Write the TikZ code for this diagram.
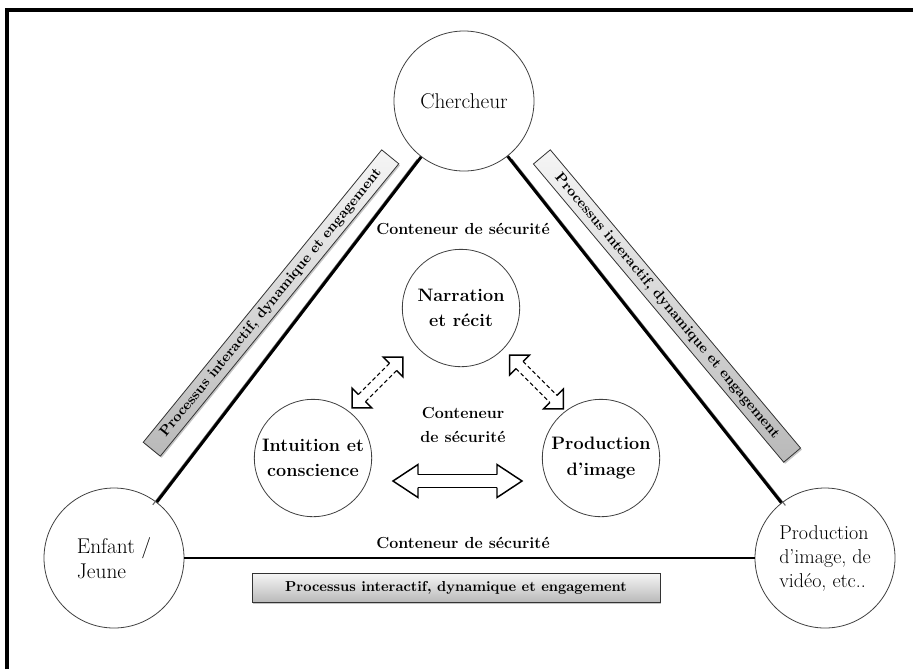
\documentclass[tikz,border=0pt]{standalone}
\usetikzlibrary{shadows}
\newcommand{\DblArr}[7]{%
  \begin{scope}[shift={#1},rotate=#2]
    \fill[white] (-#3,0) -- (-#3+#4,#5) -- (-#3+#4,#6) -- (#3-#4,#6) -- (#3-#4,#5) -- (#3,0)
      -- (#3-#4,-#5) -- (#3-#4,-#6) -- (-#3+#4,-#6) -- (-#3+#4,-#5) -- cycle;
    \draw[arrhead] (-#3+#4,#6) -- (-#3+#4,#5) -- (-#3,0) -- (-#3+#4,-#5) -- (-#3+#4,-#6);
    \draw[arrhead] (#3-#4,#6) -- (#3-#4,#5) -- (#3,0) -- (#3-#4,-#5) -- (#3-#4,-#6);
    \draw[#7] (-#3+#4,#6) -- (#3-#4,#6);
    \draw[#7] (-#3+#4,-#6) -- (#3-#4,-#6);
  \end{scope}}
\tikzset{
  outer/.style={circle, draw=black!75, line width=0.6pt, minimum size=105pt, inner sep=0pt,
    font=\fontsize{16}{19}\selectfont, align=left},
  inner/.style={circle, draw=black!75, line width=0.6pt, minimum size=88pt, inner sep=0pt,
    font=\bfseries\fontsize{13.5}{19}\selectfont, align=center},
  conteneur/.style={font=\bfseries\fontsize{12}{17.5}\selectfont, align=center, inner sep=0pt},
  banner/.style={draw=black!80, line width=0.6pt, top color=gray!8, bottom color=gray!55,
    drop shadow={shadow xshift=1pt, shadow yshift=-1.2pt, opacity=0.45},
    inner sep=0pt, font=\bfseries\fontsize{10.8}{12}\selectfont},
  mainline/.style={line width=2.2pt, black},
  shadowline/.style={line width=0.8pt, black!60},
  arrhead/.style={line width=1.1pt, black, line join=miter},
  solidshaft/.style={line width=1.1pt, black},
  dashshaft/.style={line width=0.8pt, black, densely dashed}
}
\begin{document}
\begin{tikzpicture}[x=0.75pt, y=-0.75pt]
  \useasboundingbox (0,0) rectangle (913,669);
  \fill[white] (0,0) rectangle (913,669);
  % frame
  \draw[line width=3pt] (7,669) -- (7,10) -- (913,10);

  % outer circles
  \node[outer] (cher) at (464,101) {Chercheur};
  \node[outer] (enf) at (114,558) {Enfant /\\Jeune};
  \node[outer, font=\fontsize{15}{18}\selectfont] (prod) at (825,558) {Production\\d'image, de\\vidéo, etc..};

  % triangle connectors
  \draw[shadowline, transform canvas={shift={(-3pt,-2pt)}}] (cher) -- (enf);
  \draw[mainline] (cher) -- (enf);
  \draw[shadowline, transform canvas={shift={(3pt,-2pt)}}] (cher) -- (prod);
  \draw[mainline] (cher) -- (prod);
  \draw[mainline] (enf) -- (prod);

  % banners
  \node[banner, minimum width=283pt, minimum height=16.5pt, rotate=50.8] (banL) at (271,303)
    {Processus interactif, dynamique et engagement};
  \node[banner, minimum width=292pt, minimum height=16.5pt, rotate=-50] (banR) at (667,306)
    {Processus interactif, dynamique et engagement};
  \node[banner, minimum width=306pt, minimum height=21.75pt] (banB) at (456,588)
    {Processus interactif, dynamique et engagement};

  % container labels
  \node[conteneur] (c1) at (463,229) {Conteneur de sécurité};
  \node[conteneur] (c2) at (463,425) {Conteneur\\de sécurité};
  \node[conteneur] (c3) at (463,543) {Conteneur de sécurité};

  % inner circles
  \node[inner] (narr) at (461,308) {Narration\\et récit};
  \node[inner] (intu) at (313,458) {Intuition et\\conscience};
  \node[inner] (pimg) at (601,458) {Production\\d'image};

  % double arrows
  \DblArr{(377.5,382.5)}{45}{36}{14}{14}{5}{dashshaft}
  \DblArr{(536.5,382)}{-45}{38}{14}{14}{5}{dashshaft}
  \DblArr{(457.5,481)}{0}{64.5}{25}{16.5}{6.5}{solidshaft}
\end{tikzpicture}
\end{document}
